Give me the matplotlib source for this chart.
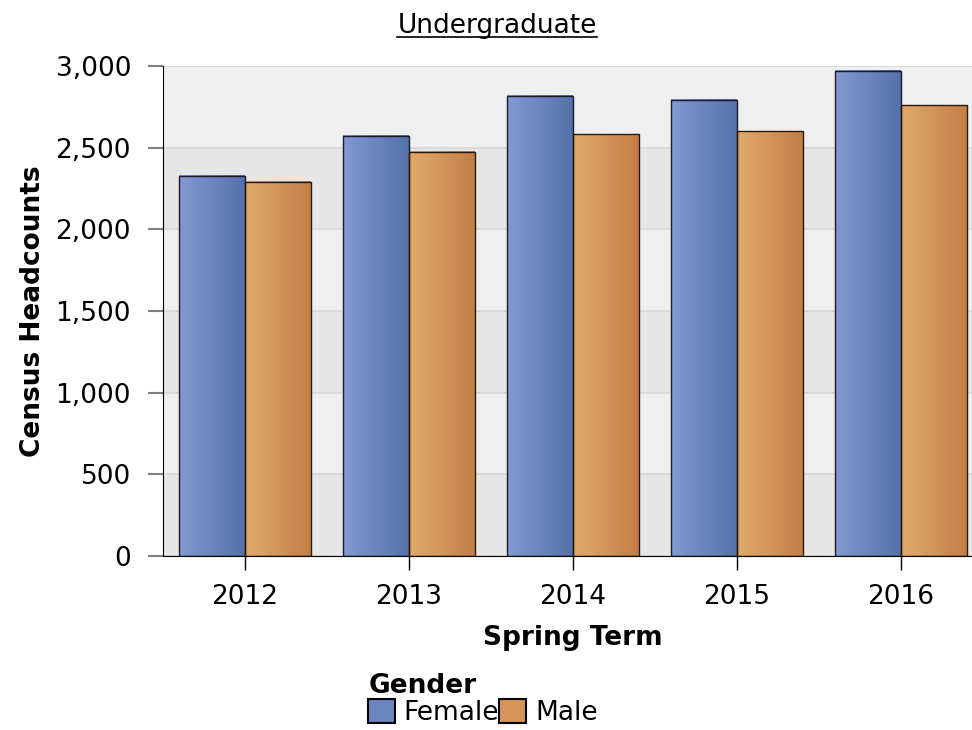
import matplotlib
matplotlib.use("Agg")
import matplotlib.pyplot as plt
import numpy as np
from matplotlib.patches import Patch
from matplotlib.colors import LinearSegmentedColormap
from matplotlib.lines import Line2D

years = ["2012", "2013", "2014", "2015", "2016"]
female = [2327, 2572, 2817, 2793, 2970]
male = [2292, 2474, 2583, 2602, 2760]
yticks = [0, 500, 1000, 1500, 2000, 2500, 3000]

blue_grad = LinearSegmentedColormap.from_list("b", ["#8399d3", "#5571a9"])
orange_grad = LinearSegmentedColormap.from_list("o", ["#e2ab6b", "#c47e46"])

FS = 19

fig = plt.figure(figsize=(9.72, 7.3), dpi=100)
ax = fig.add_axes([163/972, 1-556/730, (983-163)/972, (556-66)/730])

x = np.arange(len(years))
w = 0.4

# bands
for i in range(6):
    ax.axhspan(i*500, (i+1)*500, color="#e6e6e6" if i % 2 == 0 else "#efefef", zorder=0, lw=0)
for t in yticks:
    ax.axhline(t, color="#d6d6d6", lw=1.2, zorder=0.5)

bf = ax.bar(x - w/2, female, w, facecolor="none", edgecolor="#1a1a2a", lw=1, zorder=3)
bm = ax.bar(x + w/2, male, w, facecolor="none", edgecolor="#2a1a0a", lw=1, zorder=3)
grad = np.linspace(0, 1, 256).reshape(1, -1)
for bars, cmap in ((bf, blue_grad), (bm, orange_grad)):
    for p in bars:
        x0, y0 = p.get_x(), p.get_y()
        ax.imshow(grad, cmap=cmap, aspect="auto", extent=(x0, x0 + p.get_width(), y0, y0 + p.get_height()),
                  zorder=2, interpolation="bilinear")
ax.set_xlim(-0.5, 4.5)
ax.set_ylim(0, 3000)

for s in ["top", "right"]:
    ax.spines[s].set_visible(False)
ax.spines["left"].set_color("black")
ax.spines["bottom"].set_color("black")
ax.spines["left"].set_zorder(4)
ax.spines["bottom"].set_zorder(4)

ax.set_xticks(x)
ax.set_xticklabels(years)
ax.set_yticks(yticks)
ax.set_yticklabels([f"{t:,}" for t in yticks])
ax.tick_params(axis="y", length=11, width=1.5, color="#808080", labelsize=FS, pad=12, direction="out")
ax.tick_params(axis="x", length=10, width=1, color="black", labelsize=FS, pad=10, direction="out")
ax.yaxis.get_major_ticks()[0].tick1line.set_color("black")

ax.set_xlabel("Spring Term", fontsize=FS, fontweight="bold", labelpad=11)
ax.set_ylabel("Census Headcounts", fontsize=FS, fontweight="bold", labelpad=7)

title = fig.text(497/972, 1-33/730, "Undergraduate", fontsize=FS, ha="center", va="baseline")

handles = [Patch(facecolor="#6c85c0", edgecolor="black", lw=1.5),
           Patch(facecolor="#d59558", edgecolor="black", lw=1.5)]
leg = fig.legend(handles, ["Female", "Male"], ncol=2, loc="upper left",
                 bbox_to_anchor=(355/972, 1-660/730), frameon=False, fontsize=FS,
                 title="Gender", title_fontproperties={"weight": "bold", "size": FS},
                 handlelength=1.0, handleheight=1.0, handletextpad=0.35, columnspacing=0.0,
                 alignment="left", borderpad=0, labelspacing=0)

fig.canvas.draw()
bb = title.get_window_extent()
inv = fig.transFigure.inverted()
(x0, y0), (x1, y1) = inv.transform([(bb.x0, bb.y0), (bb.x1, bb.y0)])
fig.add_artist(Line2D([x0, x1], [1-37/730, 1-37/730], color="black", lw=1.2, transform=fig.transFigure))

fig.savefig("out.png", dpi=100)
